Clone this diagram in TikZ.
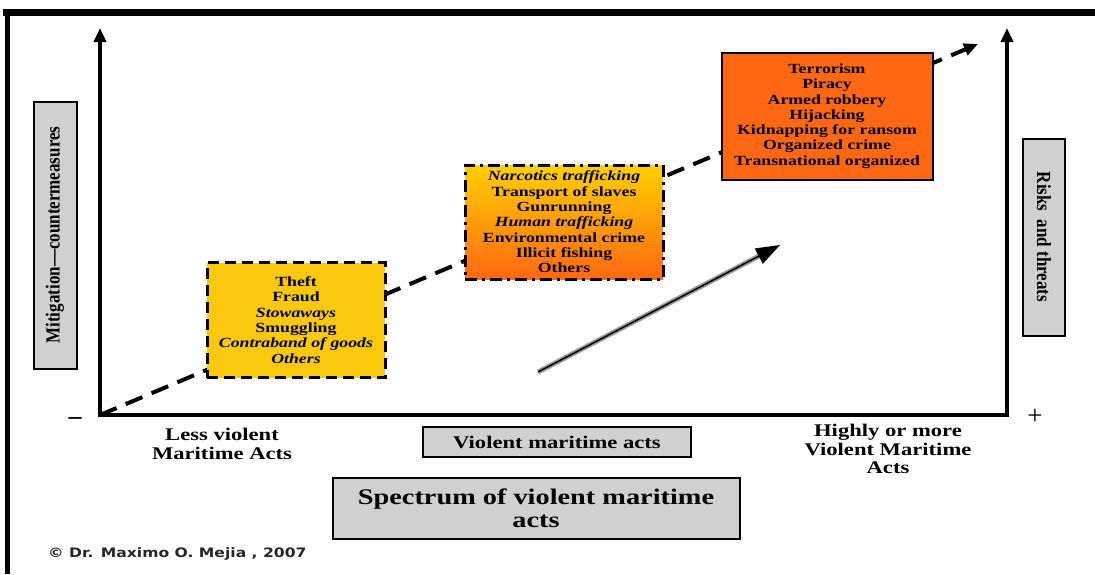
\documentclass[tikz,border=0pt]{standalone}
\usepackage{fontspec}
\setmainfont{Liberation Serif}
\newfontfamily\wideserif[FakeStretch=1.27]{Liberation Serif}
\newfontfamily\tallserif[FakeStretch=0.85]{Liberation Serif}
\newfontfamily\notefont[FakeStretch=1.2]{DejaVu Sans}
\usetikzlibrary{arrows.meta}
\usetikzlibrary{calc}

\definecolor{boxgold}{RGB}{250,200,12}
\definecolor{boxyellow}{RGB}{255,208,0}
\definecolor{boxorange}{RGB}{255,104,18}
\definecolor{labelgrey}{RGB}{208,208,208}

\tikzset{
	tip/.style={-{Triangle[length=14pt,width=12pt]}},
	crimebox/.style={draw=black, line width=2.5pt, align=center, inner sep=0pt,
		font=\wideserif\bfseries\fontsize{14}{15.3}\selectfont},
	greybox/.style={draw=black, line width=2pt, fill=labelgrey, inner sep=0pt, align=center},
	scalelabel/.style={align=center, font=\wideserif\bfseries\fontsize{17.8}{18.5}\selectfont},
	sidelabel/.style={greybox, font=\tallserif\bfseries\fontsize{20}{22}\selectfont},
}

\begin{document}
\begin{tikzpicture}[x=1pt,y=-1pt]
	% 1095 x 574, one unit = one pixel
	\useasboundingbox (0,0) rectangle (1095,574);
	% frame
	\draw[line width=7pt] (3,12.5) -- (1095,12.5);
	\draw[line width=5pt] (7,9) -- (7,574);

	% axes
	\coordinate (origin) at (100,415);
	\coordinate (lefttop) at (100,28);
	\coordinate (corner) at (1007,415);
	\coordinate (righttop) at (1007,28);
	\draw[line width=4pt, {Triangle[length=14pt,width=12pt]}-{Triangle[length=14pt,width=12pt]}]
		(lefttop) -- (origin) -- (corner) -- (righttop);

	% dashed trend, under the boxes
	\coordinate (trendtip) at (978,44);
	\draw[line width=4pt, dash pattern=on 18pt off 10pt, tip] (origin) -- (trendtip);

	% double arrow
	\coordinate (pushstart) at (538,372);
	\coordinate (pushtip) at (780,245);
	\draw[line width=5pt, black!40, shorten >=18pt] (pushstart) -- (pushtip);
	\draw[line width=1.5pt, -{Triangle[length=24pt,width=17pt]}] (pushstart) -- (pushtip);

	% crime boxes
	\node[crimebox, fill=boxgold, dash pattern=on 11pt off 6pt, line width=3pt,
		minimum width=178, minimum height=115] (lowbox) at (296,320)
		{Theft\\Fraud\\\textit{Stowaways}\\Smuggling\\\textit{Contraband of goods}\\\textit{Others}};
	\node[crimebox, top color=boxyellow, bottom color=boxorange,
		dash pattern=on 12pt off 5pt on 3pt off 5pt, line width=3pt,
		minimum width=198, minimum height=114] (midbox) at (564,222)
		{\textit{Narcotics trafficking}\\Transport of slaves\\Gunrunning\\\textit{Human trafficking}\\Environmental crime\\Illicit fishing\\Others};
	\node[crimebox, fill=boxorange, line width=2pt,
		minimum width=211, minimum height=127] (highbox) at (827,116)
		{Terrorism\\Piracy\\Armed robbery\\Hijacking\\Kidnapping for ransom\\Organized crime\\Transnational organized};

	% side labels
	\node[sidelabel, rotate=90, minimum width=267, minimum height=43] (mitigation) at (55,235)
		{Mitigation—countermeasures};
	\node[sidelabel, rotate=-90, minimum width=197, minimum height=42] (risks) at (1044,237)
		{Risks\ \ and threats};
	\node[font=\bfseries\fontsize{26}{26}\selectfont] (minus) at (75,421) {–};
	\node[font=\fontsize{27}{27}\selectfont] (plus) at (1035,417) {+};

	% scale labels
	\node[scalelabel] (lessviolent) at (222,444) {Less violent\\Maritime Acts};
	\node[greybox, scalelabel, minimum width=268, minimum height=30] (violent) at (557,442)
		{Violent maritime acts};
	\node[scalelabel] (moreviolent) at (888,449) {Highly or more\\Violent Maritime\\Acts};
	\node[greybox, align=center, minimum width=407, minimum height=61,
		font=\wideserif\bfseries\fontsize{22.3}{23}\selectfont] (spectrum) at (536,508)
		{Spectrum of violent maritime\\acts};

	% credit
	\node[anchor=west, inner sep=0pt, text=black!85,
		font=\notefont\bfseries\fontsize{13}{15}\selectfont] (credit) at (48,554)
		{© Dr. Maximo O. Mejia , 2007};
\end{tikzpicture}
\end{document}
